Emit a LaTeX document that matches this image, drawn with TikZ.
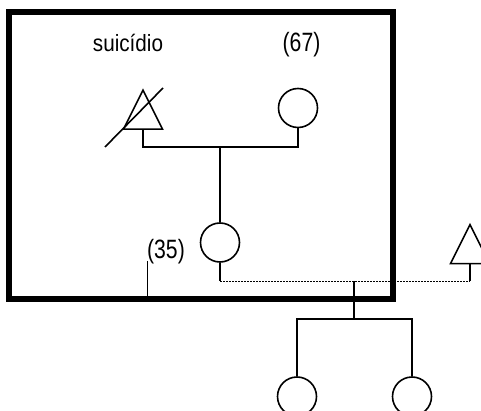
\documentclass[tikz,border=0pt]{standalone}
\usepackage{fontspec}
\setmainfont{Liberation Sans}
\usepackage{tikz}
\usetikzlibrary{shapes.geometric}
\tikzstyle{fem}=[circle,draw,line width=1.6pt,minimum size=39pt,inner sep=0pt]
\tikzstyle{male}=[isosceles triangle,isosceles triangle stretches,shape border rotate=90,draw,line width=1.6pt,minimum width=39pt,minimum height=39pt,inner sep=0pt,anchor=apex]
\tikzstyle{link}=[line width=1.6pt]
\tikzstyle{dotline}=[line width=1pt,dash pattern=on 1.5pt off 1.5pt]
\tikzstyle{lbl}=[font=\fontsize{26.5}{30}\selectfont,inner sep=0pt,anchor=base]
\newcommand{\narrow}[2]{\scalebox{#1}[1]{#2}}

\begin{document}
\begin{tikzpicture}[x=1pt,y=-1pt]
    \useasboundingbox (0,0) rectangle (481,411);
    % box
    \draw [line width=6.5pt] (9,12) rectangle (393,299);
    \node[lbl,font=\fontsize{23.5}{28}\selectfont] (suic) at (128,52) {\narrow{0.88}{suicídio}};
    \node[lbl] (age67) at (301.5,52) {\narrow{0.8}{(67)}};
    \node[lbl] (age35) at (166,258.5) {\narrow{0.8}{(35)}};

    % grandparents
    \node[male] (gpa) at (143,88) {};
    \draw [link] (105,147) -- (163,88);
    \node[fem] (gma) at (298,108) {};
    \coordinate (c1) at (220,147);
    \draw [link] (gpa.south) |- (c1) -| (gma.south);

    % mother and father
    \node[fem] (mom) at (220,242.5) {};
    \draw [link] (c1) -- (mom.north);
    \node[male] (dad) at (470,222.5) {};
    \coordinate (c2) at (220,281);
    \coordinate (c3) at (470,281);
    \draw [link] (mom.south) -- (c2);
    \draw [link] (dad.south) -- (c3);
    \draw [dotline] (c2) -- (c3);
    \draw [line width=0.8pt] (147,261) -- (147,298);

    % children
    \coordinate (c4) at (354,281);
    \coordinate (c5) at (354,319);
    \node[fem] (kid1) at (297,396.5) {};
    \node[fem] (kid2) at (412,396.5) {};
    \draw [link] (c4) -- (c5);
    \draw [link] (kid1.north) |- (c5) -| (kid2.north);
\end{tikzpicture}
\end{document}
